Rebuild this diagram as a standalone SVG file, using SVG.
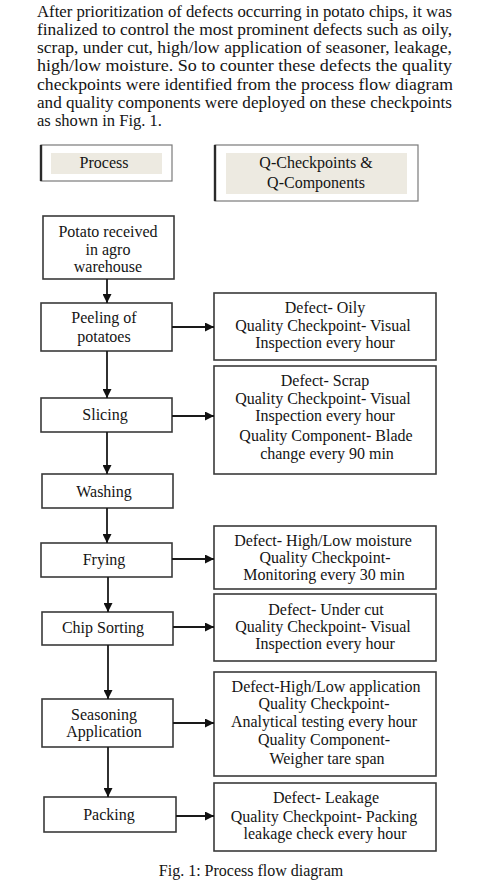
<svg xmlns="http://www.w3.org/2000/svg" width="482" height="891" viewBox="0 0 482 891">
<style>
text{font-family:"Liberation Serif","Times New Roman",serif;fill:#141414}
.p{font-size:17px}
.t{font-size:16px;text-anchor:middle}
.box{fill:#fff;stroke:#3a3a3a;stroke-width:1.6}
.leg{fill:#fff;stroke:#7a7a7a;stroke-width:1.2}
.legin{fill:#EDEAE1}
.edge{stroke:#2a2a2a;stroke-width:2.4}
.c{stroke:#1a1a1a;stroke-width:1.8;fill:none;marker-end:url(#ah)}
</style>
<defs>
<marker id="ah" viewBox="0 0 10 10" refX="10" refY="5" markerWidth="9" markerHeight="9" markerUnits="userSpaceOnUse" orient="auto">
<path d="M0,0 L10,5 L0,10 z" fill="#111"/>
</marker>
</defs>
<rect width="482" height="891" fill="#fff"/>
<g id="paragraph">
<text class="p" x="37" y="16.5" textLength="415" lengthAdjust="spacingAndGlyphs">After prioritization of defects occurring in potato chips, it was</text>
<text class="p" x="37" y="34.8" textLength="415" lengthAdjust="spacingAndGlyphs">finalized to control the most prominent defects such as oily,</text>
<text class="p" x="37" y="53.1" textLength="415" lengthAdjust="spacingAndGlyphs">scrap, under cut, high/low application of seasoner, leakage,</text>
<text class="p" x="37" y="71.4" textLength="415" lengthAdjust="spacingAndGlyphs">high/low moisture. So to counter these defects the quality</text>
<text class="p" x="37" y="89.7" textLength="416" lengthAdjust="spacingAndGlyphs">checkpoints were identified from the process flow diagram</text>
<text class="p" x="37" y="108" textLength="415" lengthAdjust="spacingAndGlyphs">and quality components were deployed on these checkpoints</text>
<text class="p" x="37" y="126.3" textLength="125" lengthAdjust="spacingAndGlyphs">as shown in Fig. 1.</text>
</g>
<g id="legend-process">
<rect class="leg" x="41" y="145" width="131" height="36"/>
<rect class="legin" x="51" y="153" width="111" height="21"/>
<line class="edge" x1="41" y1="145" x2="41" y2="181"/>
<text class="t" x="104" y="168">Process</text>
</g>
<g id="legend-q">
<rect class="leg" x="215" y="145" width="203" height="56"/>
<rect class="legin" x="226" y="153" width="181" height="41"/>
<line class="edge" x1="215" y1="145" x2="215" y2="201"/>
<text class="t" x="316" y="168">Q-Checkpoints &amp;</text>
<text class="t" x="316" y="188">Q-Components</text>
</g>
<g id="n-potato">
<rect class="box" x="43" y="216" width="131" height="63"/>
<text class="t" x="108" y="237">Potato received</text>
<text class="t" x="108" y="255">in agro</text>
<text class="t" x="108" y="272">warehouse</text>
</g>
<g id="n-peeling">
<rect class="box" x="41" y="303" width="131" height="48"/>
<text class="t" x="104" y="323">Peeling of</text>
<text class="t" x="104" y="342">potatoes</text>
</g>
<g id="n-slicing">
<rect class="box" x="41" y="398" width="131" height="34"/>
<text class="t" x="105" y="420">Slicing</text>
</g>
<g id="n-washing">
<rect class="box" x="42" y="474" width="131" height="34"/>
<text class="t" x="104" y="497">Washing</text>
</g>
<g id="n-frying">
<rect class="box" x="41" y="543" width="131" height="34"/>
<text class="t" x="104" y="565">Frying</text>
</g>
<g id="n-chip">
<rect class="box" x="42" y="612" width="131" height="33"/>
<text class="t" x="103" y="633">Chip Sorting</text>
</g>
<g id="n-seasoning">
<rect class="box" x="42" y="699" width="131" height="48"/>
<text class="t" x="104" y="720">Seasoning</text>
<text class="t" x="104" y="737">Application</text>
</g>
<g id="n-packing">
<rect class="box" x="44" y="797" width="132" height="35"/>
<text class="t" x="109" y="820">Packing</text>
</g>
<g id="q-oily">
<rect class="box" x="214" y="293" width="222" height="67"/>
<text class="t" x="325" y="313">Defect- Oily</text>
<text class="t" x="323" y="331">Quality Checkpoint- Visual</text>
<text class="t" x="325" y="348">Inspection every hour</text>
</g>
<g id="q-scrap">
<rect class="box" x="214" y="366" width="222" height="108"/>
<text class="t" x="325" y="386">Defect- Scrap</text>
<text class="t" x="323" y="404">Quality Checkpoint- Visual</text>
<text class="t" x="325" y="421">Inspection every hour</text>
<text class="t" x="326" y="441">Quality Component- Blade</text>
<text class="t" x="327" y="459">change every 90 min</text>
</g>
<g id="q-moisture">
<rect class="box" x="214" y="526" width="222" height="63"/>
<text class="t" x="323" y="546">Defect- High/Low moisture</text>
<text class="t" x="325" y="563">Quality Checkpoint-</text>
<text class="t" x="324" y="580">Monitoring every 30 min</text>
</g>
<g id="q-undercut">
<rect class="box" x="214" y="594" width="222" height="67"/>
<text class="t" x="326" y="615">Defect- Under cut</text>
<text class="t" x="323" y="632">Quality Checkpoint- Visual</text>
<text class="t" x="325" y="649">Inspection every hour</text>
</g>
<g id="q-seasoning">
<rect class="box" x="214" y="672" width="222" height="104"/>
<text class="t" x="326" y="692">Defect-High/Low application</text>
<text class="t" x="324" y="709">Quality Checkpoint-</text>
<text class="t" x="324" y="727">Analytical testing every hour</text>
<text class="t" x="324" y="745">Quality Component-</text>
<text class="t" x="327" y="764">Weigher tare span</text>
</g>
<g id="q-leakage">
<rect class="box" x="214" y="783" width="222" height="68"/>
<text class="t" x="326" y="803">Defect- Leakage</text>
<text class="t" x="324" y="822">Quality Checkpoint- Packing</text>
<text class="t" x="325" y="839">leakage check every hour</text>
</g>
<g id="connectors">
<line class="c" x1="107" y1="279" x2="107" y2="303"/>
<line class="c" x1="107" y1="351" x2="107" y2="398"/>
<line class="c" x1="107" y1="432" x2="107" y2="474"/>
<line class="c" x1="107" y1="508" x2="107" y2="543"/>
<line class="c" x1="108" y1="577" x2="108" y2="612"/>
<line class="c" x1="108" y1="645" x2="108" y2="699"/>
<line class="c" x1="108" y1="747" x2="108" y2="797"/>
<line class="c" x1="172" y1="327" x2="214" y2="327"/>
<line class="c" x1="172" y1="416" x2="214" y2="416"/>
<line class="c" x1="172" y1="559" x2="214" y2="559"/>
<line class="c" x1="173" y1="627" x2="214" y2="627"/>
<line class="c" x1="173" y1="723" x2="214" y2="723"/>
<line class="c" x1="176" y1="816" x2="214" y2="816"/>
</g>
<g id="caption">
<text class="t" x="251" y="876">Fig. 1: Process flow diagram</text>
</g>
</svg>
